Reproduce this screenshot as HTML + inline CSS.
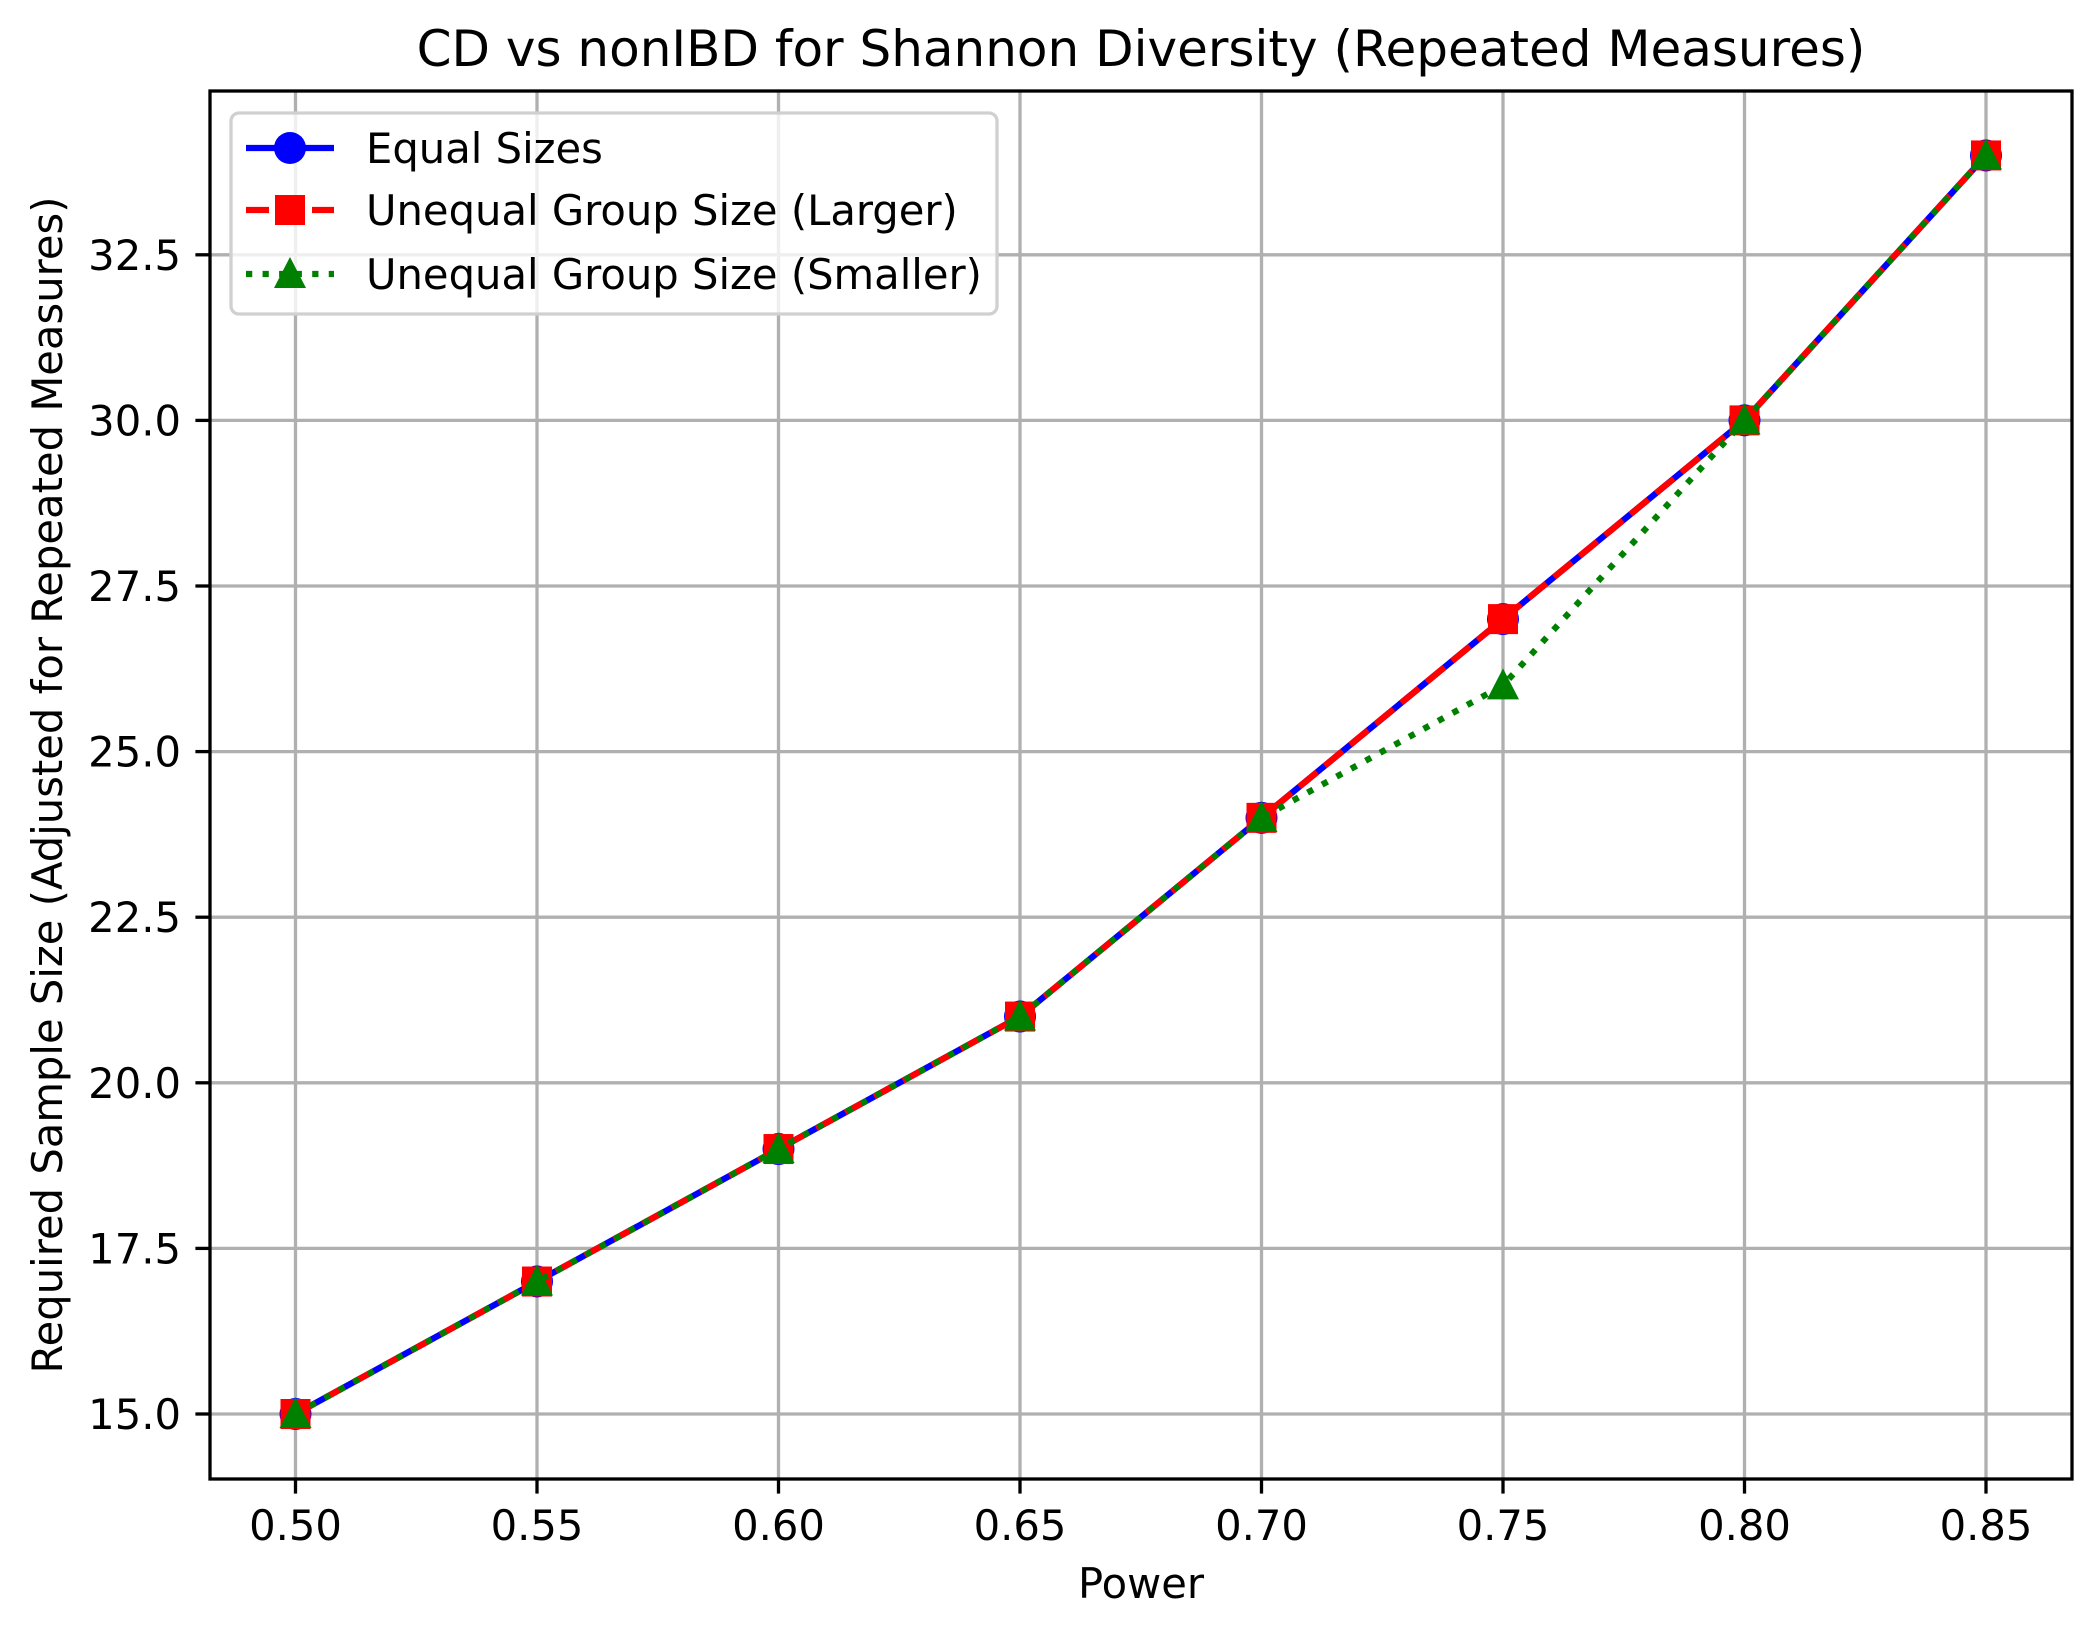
<!DOCTYPE html>
<html><head><meta charset="utf-8"><style>
html,body{margin:0;padding:0;background:#fff;}
svg{display:block;font-family:"DejaVu Sans","Liberation Sans",sans-serif;}
</style></head><body>
<svg id="chart" width="2100" height="1638" viewBox="0 0 2100 1638"></svg>
<script>
const powers=[0.50,0.55,0.60,0.65,0.70,0.75,0.80,0.85];
const equalSizes=[15,17,19,21,24,27,30,34];
const unequalLarger=[15,17,19,21,24,27,30,34];
const unequalSmaller=[15,17,19,21,24,26,30,34];
const xTicks=[0.50,0.55,0.60,0.65,0.70,0.75,0.80,0.85];
const xTickLabels=["0.50","0.55","0.60","0.65","0.70","0.75","0.80","0.85"];
const yTicks=[15,17.5,20,22.5,25,27.5,30,32.5];
const yTickLabels=["15.0","17.5","20.0","22.5","25.0","27.5","30.0","32.5"];

const L=210,R=2072,T=91,B=1479;
const x0=295.5,xs=241.5/0.05;
const y0=1414,ys=165.6/2.5;
function X(v){return x0+(v-0.5)*xs;}
function Y(v){return y0-(v-15)*ys;}
const NS="http://www.w3.org/2000/svg";
const svg=document.getElementById('chart');
function mk(t,a,p){const e=document.createElementNS(NS,t);for(const k in a)e.setAttribute(k,a[k]);(p||svg).appendChild(e);return e;}

xTicks.forEach((v,i)=>{
 const g=mk('line',{x1:X(v),x2:X(v),y1:T,y2:B,stroke:'#b0b0b0','stroke-width':3.3});
 
 
 const t=mk('line',{x1:X(v),x2:X(v),y1:B,y2:B+14.6,stroke:'#000','stroke-width':3.3});
 
 
 const l=mk('text',{x:X(v),y:1540,'font-size':41.7,'text-anchor':'middle',fill:'#000'});
 l.textContent=xTickLabels[i];
 
 
});
yTicks.forEach((v,i)=>{
 const g=mk('line',{x1:L,x2:R,y1:Y(v),y2:Y(v),stroke:'#b0b0b0','stroke-width':3.3});
 
 
 const t=mk('line',{x1:L-14.6,x2:L,y1:Y(v),y2:Y(v),stroke:'#000','stroke-width':3.3});
 
 
 const l=mk('text',{x:L-29,y:Y(v)+15,'font-size':41.7,'text-anchor':'end',fill:'#000'});
 l.textContent=yTickLabels[i];
 
 
});

function series(vals,color,dash,marker,name){
 const pts=powers.map((p,i)=>X(p)+','+Y(vals[i])).join(' ');
 const a={points:pts,fill:'none',stroke:color,'stroke-width':6.25};
 if(dash)a['stroke-dasharray']=dash;
 const pl=mk('polyline',a);
 
 
 powers.forEach((p,i)=>{
  const m=drawMarker(marker,X(p),Y(vals[i]),color);
  
  
 });
}
function drawMarker(type,cx,cy,color){
 if(type==='o')return mk('circle',{cx:cx,cy:cy,r:16,fill:color});
 if(type==='s')return mk('rect',{x:cx-15,y:cy-15,width:30,height:30,fill:color});
 return mk('polygon',{points:`${cx},${cy-17} ${cx-16},${cy+14} ${cx+16},${cy+14}`,fill:color});
}
series(equalSizes,'#0000ff',null,'o','equal-sizes');
series(unequalLarger,'#ff0000','23 10','s','unequal-larger');
series(unequalSmaller,'#008000','6.25 10.3','^','unequal-smaller');

const sp=mk('rect',{x:L,y:T,width:R-L,height:B-T,fill:'none',stroke:'#000','stroke-width':3.3});



const ti=mk('text',{x:1141,y:66,'font-size':50,'text-anchor':'middle'});ti.textContent='CD vs nonIBD for Shannon Diversity (Repeated Measures)';


const xl=mk('text',{x:1141,y:1598,'font-size':41.7,'text-anchor':'middle'});xl.textContent='Power';


const yl=mk('text',{x:0,y:0,'font-size':41.7,'text-anchor':'middle',transform:'translate(62,785) rotate(-90)'});yl.textContent='Required Sample Size (Adjusted for Repeated Measures)';



const lg=mk('g',{});


mk('rect',{x:231,y:113,width:766,height:201,rx:8,fill:'#fff','fill-opacity':0.8,stroke:'#d0d0d0','stroke-width':3.3},lg);
const entries=[['Equal Sizes','#0000ff',null,'o',148,'legend-entry-equal'],['Unequal Group Size (Larger)','#ff0000','23 10','s',210,'legend-entry-larger'],['Unequal Group Size (Smaller)','#008000','6.25 10.3','^',274,'legend-entry-smaller']];
entries.forEach(e=>{
 const g=mk('g',{},lg);
 
 
 const a={x1:246,x2:334,y1:e[4],y2:e[4],stroke:e[1],'stroke-width':6.25};
 if(e[2])a['stroke-dasharray']=e[2];
 mk('line',a,g);
 const m=drawMarker(e[3],290,e[4],e[1]);g.appendChild(m);
 const t=mk('text',{x:366,y:e[4]+15,'font-size':41.7},g);t.textContent=e[0];
});
</script>
</body></html>
